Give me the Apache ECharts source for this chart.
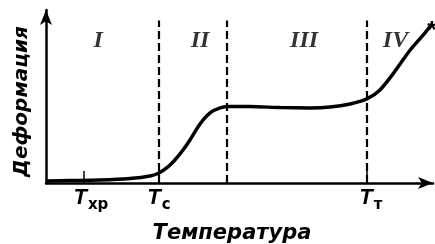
<!DOCTYPE html>
<html>
<head>
<meta charset="utf-8">
<script src="https://cdn.jsdelivr.net/npm/echarts@6/dist/echarts.min.js"></script>
<style>
  html, body { margin: 0; padding: 0; background: #fff; }
  #chart { width: 435px; height: 244px; }
</style>
</head>
<body>
<div id="chart"></div>
<script>
// кривая деформация - температура
var temps = [0.3, 6.2, 14, 21.7, 26.9, 29.2, 31.5, 33.3, 35.4, 37.2, 39.8, 42.4, 45, 47.5, 52.7, 60.5, 68.2, 73.4, 78.6, 82.9, 86.3, 90.2, 94.1, 97.9, 99.7]
var deform = [1.2, 1.4, 1.7, 2.6, 4.1, 5.8, 9.3, 13.3, 19.1, 24.9, 34.1, 40.5, 43.4, 44.2, 44.2, 43.6, 43.4, 43.9, 45.7, 48.6, 53.8, 64.7, 76.9, 86.7, 91.9]

var tickValues = [9.8, 29.2, 82.9]
var tickNames = ['хр', 'с', 'т']

var borders = [29.2, 46.8, 82.9]
var regionNames = ['I', 'II', 'III', 'IV']
var regionX = [13.5, 39.8, 66.7, 90.3]

var chart = echarts.init(document.getElementById('chart'))

var curve = temps.map(function (t, i) { return [t, deform[i]] })

// сдвиг подписей вправо от штриха
var shift = ['{p1| }', '', '{p2| }']

var option = {
  animation: false,
  grid: { left: 46, right: 2, top: 10, bottom: 61, outerBoundsMode: 'none' },
  xAxis: {
    type: 'value', min: 0, max: 100,
    splitLine: { show: false },
    axisLine: { lineStyle: { color: '#000', width: 2.5 }, symbol: ['none', 'arrow'], symbolSize: [9, 15] },
    axisTick: { show: true, inside: true, length: 12, customValues: tickValues, lineStyle: { color: '#000', width: 1.5 } },
    axisLabel: {
      customValues: tickValues, margin: 4,
      formatter: function (v) {
        var i = tickValues.indexOf(v)
        return shift[i] + '{t|T}{s|' + tickNames[i] + '}'
      },
      rich: {
        p1: { width: 14, fontSize: 10 },
        p2: { width: 8, fontSize: 10 },
        t: { fontFamily: 'Liberation Sans', fontStyle: 'italic', fontWeight: 'bold', fontSize: 22, lineHeight: 22, color: '#000', verticalAlign: 'top' },
        s: { fontFamily: 'DejaVu Sans', fontWeight: 'bold', fontSize: 15, lineHeight: 26, color: '#000', verticalAlign: 'bottom', padding: [0, 0, 0, 1] }
      }
    },
    name: 'Температура', nameLocation: 'middle', nameGap: 40,
    nameTextStyle: { fontFamily: 'DejaVu Sans', fontStyle: 'italic', fontWeight: 'bold', fontSize: 21, color: '#000', padding: [0, 15, 0, 0] }
  },
  yAxis: {
    type: 'value', min: 0, max: 100,
    splitLine: { show: false },
    axisTick: { show: false }, axisLabel: { show: false },
    axisLine: { lineStyle: { color: '#000', width: 2.5 }, symbol: ['none', 'arrow'], symbolSize: [9, 15] },
    name: 'Деформация', nameLocation: 'middle', nameGap: 14, nameRotate: 90,
    nameTextStyle: { fontFamily: 'DejaVu Sans', fontStyle: 'italic', fontWeight: 'bold', fontSize: 20, color: '#000', padding: [0, 10, 0, 0] }
  },
  series: [
    {
      type: 'line', data: curve, smooth: 0.25, showSymbol: false,
      lineStyle: { color: '#000', width: 3.5 },
      markLine: {
        silent: true, symbol: 'none', label: { show: false },
        lineStyle: { color: '#000', width: 2.2, type: [8, 4] },
        data: borders.map(function (b) { return [{ coord: [b, 0] }, { coord: [b, 94] }] })
      },
      markPoint: {
        symbol: 'circle', symbolSize: 1, itemStyle: { color: 'transparent' },
        label: { show: true, position: 'inside', formatter: '*', fontFamily: 'Liberation Sans', fontSize: 24, fontWeight: 'bold', color: '#000', offset: [0, 7] },
        data: [{ coord: [temps[temps.length - 1], deform[deform.length - 1]] }]
      }
    },
    {
      type: 'scatter', symbol: 'circle', symbolSize: 1, itemStyle: { color: 'transparent' },
      data: regionX.map(function (x, i) { return { value: [x, 82], name: regionNames[i] } }),
      label: {
        show: true, position: 'inside', formatter: '{b}',
        fontFamily: 'Liberation Serif', fontStyle: 'italic', fontWeight: 'bold', fontSize: 24, color: '#000'
      }
    }
  ]
}
chart.setOption(option)
</script>
</body>
</html>
